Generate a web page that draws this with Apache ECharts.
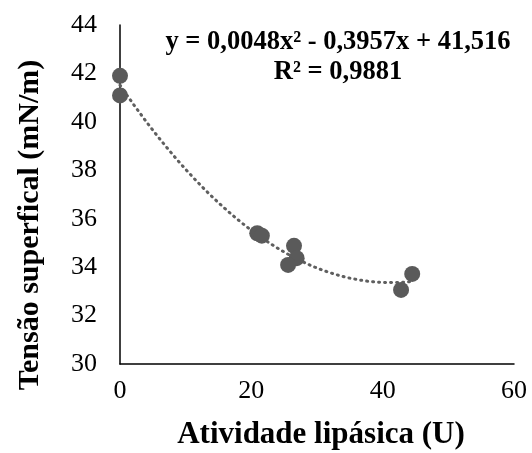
<!DOCTYPE html>
<html><head><meta charset="utf-8">
<script src="https://cdn.jsdelivr.net/npm/echarts@6/dist/echarts.min.js"></script>
<style>html,body{margin:0;padding:0;background:#fff}#c{width:532px;height:453px}</style>
</head><body><div id="c"></div>
<script>
// Data
var atividade = [0, 0, 20.9, 21.6, 26.5, 26.9, 25.6, 42.8, 44.5];
var tensao    = [41.9, 41.09, 35.4, 35.3, 34.88, 34.37, 34.09, 33.06, 33.72];
// Trendline coefficients shown on the chart: y = a x^2 + b x + c
var trendCoef = [0.0048, -0.3957, 41.516];
var trendRange = [0, 44.5];
var xTicks = [0, 20, 40, 60];
var yTicks = [30, 32, 34, 36, 38, 40, 42, 44];
var xTitle = 'Atividade lipásica (U)';
var yTitle = 'Tensão superfical (mN/m)';
var eqText = 'y = 0,0048x² - 0,3957x + 41,516';
var r2Text = 'R² = 0,9881';

var pts = atividade.map(function(x, i){ return [x, tensao[i]]; });
var trend = [];
for (var k = 0; k <= 60; k++) {
  var x = trendRange[0] + (trendRange[1] - trendRange[0]) * k / 60;
  trend.push([x, trendCoef[0]*x*x + trendCoef[1]*x + trendCoef[2]]);
}
var font = '"Liberation Serif", "Times New Roman", serif';
var chart = echarts.init(document.getElementById('c'));
chart.setOption({
  animation: false,
  grid: {left: 120, right: 18, top: 25, bottom: 89, containLabel: false, outerBoundsMode: 'none'},
  xAxis: {
    type: 'value', min: xTicks[0], max: xTicks[xTicks.length - 1], interval: 20,
    axisLine: {lineStyle: {color: '#000', width: 1.5}},
    axisTick: {show: false}, splitLine: {show: false},
    axisLabel: {fontFamily: font, fontSize: 26, color: '#000', margin: 14}
  },
  yAxis: {
    type: 'value', min: yTicks[0], max: yTicks[yTicks.length - 1], interval: 2,
    axisLine: {show: true, lineStyle: {color: '#000', width: 1.5}},
    axisTick: {show: false}, splitLine: {show: false},
    axisLabel: {fontFamily: font, fontSize: 26, color: '#000', margin: 23}
  },
  graphic: [{
    type: 'text', x: 338, y: 57,
    style: {text: eqText + '\n' + r2Text, align: 'center', verticalAlign: 'middle', fontFamily: font, fontWeight: 'bold', fontSize: 26.5, lineHeight: 30, fill: '#000'}
  }, {
    type: 'text', x: 321, y: 435,
    style: {text: xTitle, align: 'center', verticalAlign: 'middle', fontFamily: font, fontWeight: 'bold', fontSize: 31, fill: '#000'}
  }, {
    type: 'text', x: 30, y: 225, rotation: Math.PI / 2,
    style: {text: yTitle, align: 'center', verticalAlign: 'middle', fontFamily: font, fontWeight: 'bold', fontSize: 30, fill: '#000'}
  }],
  series: [{
    type: 'line', data: trend, showSymbol: false, symbol: 'none',
    lineStyle: {color: '#5f5f5f', width: 3, type: [1, 5], cap: 'round'}, z: 1
  }, {
    type: 'scatter', data: pts, symbolSize: 16,
    itemStyle: {color: '#5a5a5a', opacity: 1}, z: 2
  }]
});
</script></body></html>
